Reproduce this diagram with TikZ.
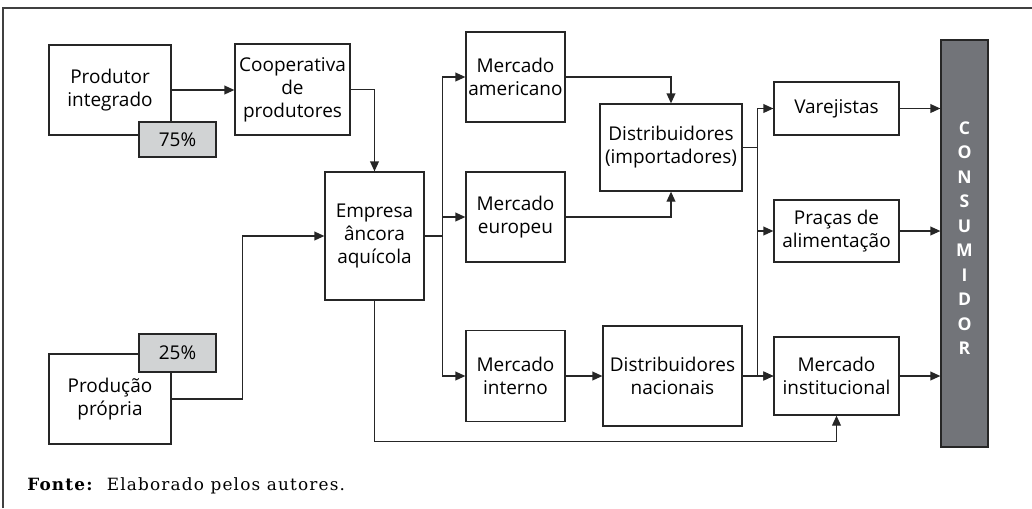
\documentclass[tikz,border=0pt]{standalone}
\usepackage{fontspec}
\setsansfont{Open Sans}
\setmainfont{DejaVu Serif}
\newfontfamily\notefont[LetterSpace=7]{DejaVu Serif}
\usepackage{tikz}
\usetikzlibrary{arrows.meta,shapes}

\definecolor{pctgray}{RGB}{209,211,212}
\definecolor{bargray}{RGB}{114,116,121}

\tikzset{
	boxsize/.style 2 args={minimum width=#1*0.025cm, minimum height=#2*0.025cm},
	box/.style={draw=black!85, line width=0.9pt, align=center, inner sep=1pt,
		font=\sffamily\fontsize{13.5}{16.3}\selectfont},
	pct/.style={box, fill=pctgray},
	line/.style={draw=black!85, line width=0.9pt},
	arr/.style={line, -{Triangle[length=0.25cm,width=0.22cm]}}
}

\begin{document}
\begin{tikzpicture}[x=0.025cm,y=-0.025cm]
	\useasboundingbox (0,0) rectangle (1032,508);
	\draw[line width=1pt, black!75] (3,508) -- (3,8) -- (1032,8);
	\node[box, boxsize={122}{90}] (prod) at (110,90) {Produtor\\integrado};
	\node[pct, boxsize={77}{35}] (p75) at (177.5,139.5) {75\%};
	\node[box, boxsize={115}{91}] (coop) at (292.5,89.5) {Cooperativa\\de\\produtores};
	\node[box, boxsize={99}{128}] (emp) at (374.5,236) {Empresa\\âncora\\aquícola};
	\node[box, boxsize={122}{90}] (prop) at (110,399) {Produção\\própria};
	\node[pct, boxsize={77}{38}] (p25) at (177.5,353) {25\%};
	\node[box, boxsize={99}{90}] (mamer) at (515.5,77) {Mercado\\americano};
	\node[box, boxsize={99}{90}] (meuro) at (515.5,217) {Mercado\\europeu};
	\node[box, boxsize={99}{91}] (mint) at (515.5,376) {Mercado\\interno};
	\node[box, boxsize={142}{87}] (dimp) at (671,147.5) {Distribuidores\\(importadores)};
	\node[box, boxsize={139}{100}] (dnac) at (672.5,376) {Distribuidores\\nacionais};
	\node[box, boxsize={125}{53}] (varej) at (836.5,108.5) {Varejistas};
	\node[box, boxsize={125}{62}] (pracas) at (836.5,231) {Praças de\\alimentação};
	\node[box, boxsize={125}{78}] (minst) at (836.5,376) {Mercado\\institucional};
	\node[box, fill=bargray, boxsize={47}{407}] (cons) at (964.5,243.5) {};
	\node[text=white, align=center, font=\sffamily\bfseries\fontsize{12.5}{17.4}\selectfont]
		(consl) at (964.5,238) {C\\O\\N\\S\\U\\M\\I\\D\\O\\R};
	\node[anchor=base west, inner sep=0pt, font=\notefont\fontsize{12}{14}\selectfont]
		(fonte) at (27,490) {\textbf{Fonte:}\ \ Elaborado pelos autores.};

	\draw[arr] (prod.east) -- (prod.east -| coop.west);
	\draw[arr] (coop.east) -| (emp.north);
	\draw[arr] (prop.east) -- ++(71,0) |- (emp.west);
	\draw[line] (emp.east) -- ++(18,0) coordinate (fork1);
	\draw[arr] (fork1) |- (mamer.west);
	\draw[arr] (fork1) |- (meuro.west);
	\draw[arr] (fork1) |- (mint.west);
	\draw[arr] (mamer.east) -| (dimp.north);
	\draw[arr] (meuro.east) -| (dimp.south);
	\draw[arr] (mint.east) -- (mint.east -| dnac.west);
	\draw[line] (dimp.east) -- ++(15,0) coordinate (fork2);
	\draw[arr] (fork2) |- (varej.west);
	\draw[arr] (fork2) |- (pracas.west);
	\draw[arr] (fork2) |- (minst.west);
	\draw[arr] (dnac.east) -- (dnac.east -| minst.west);
	\draw[arr] (emp.south) -- ++(0,141) -| (minst.south);
	\draw[arr] (varej.east) -- (varej.east -| cons.west);
	\draw[arr] (pracas.east) -- (pracas.east -| cons.west);
	\draw[arr] (minst.east) -- (minst.east -| cons.west);
\end{tikzpicture}
\end{document}
